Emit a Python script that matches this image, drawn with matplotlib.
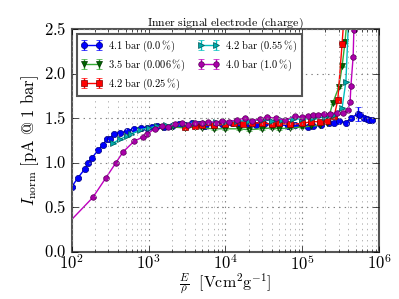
import numpy as np
import matplotlib
matplotlib.use("Agg")
import matplotlib.pyplot as plt
from matplotlib.ticker import FuncFormatter

plt.style.use('classic')
plt.rcParams['mathtext.fontset'] = 'cm'
plt.rcParams['font.family'] = 'serif'
plt.rcParams['font.serif'] = ['cmr10', 'DejaVu Serif']
plt.rcParams['axes.formatter.use_mathtext'] = True

# 4.1 bar (0.0 %)
x_a = [100, 120, 148, 162, 182, 219, 254, 287, 314, 354, 424, 524, 646, 800, 955,
       1100, 1300, 1600, 2000, 2500, 3000, 3700, 4500, 5500, 7000, 9000, 1.2e4, 1.5e4,
       2e4, 2.5e4, 3.2e4, 4e4, 5e4, 6.5e4, 8e4, 1e5, 1.2e5, 1.4e5, 1.74e5, 2.2e5, 2.6e5,
       3e5, 3.7e5, 4.3e5, 5.3e5, 5.6e5, 6.3e5, 7e5, 7.5e5, 8e5]
y_a = [0.73, 0.83, 0.93, 1.0, 1.05, 1.14, 1.2, 1.27, 1.27, 1.32, 1.33, 1.36, 1.38, 1.39, 1.39,
       1.40, 1.41, 1.40, 1.41, 1.43, 1.42, 1.44, 1.43, 1.41, 1.42, 1.43, 1.44, 1.42,
       1.43, 1.42, 1.43, 1.42, 1.43, 1.41, 1.42, 1.43, 1.40, 1.41, 1.42, 1.44, 1.45,
       1.47, 1.45, 1.50, 1.55, 1.54, 1.50, 1.49, 1.48, 1.48]
e_a = [0.01] * 44 + [0.08, 0.03, 0.02, 0.01, 0.01, 0.01]

# 3.5 bar (0.006 %)
x_b = [1500, 2000, 3000, 4000, 5000, 7000, 1e4, 1.5e4, 2e4, 3e4, 4e4, 5e4, 7e4, 1e5,
       1.3e5, 1.7e5, 2.1e5, 2.5e5, 3e5, 3.3e5, 3.6e5, 4e5]
y_b = [1.40, 1.40, 1.39, 1.40, 1.39, 1.38, 1.38, 1.38, 1.37, 1.38, 1.39, 1.38, 1.39, 1.40,
       1.41, 1.42, 1.44, 1.67, 1.85, 2.08, 2.35, 2.8]

# 4.2 bar (0.25 %)
x_c = [3000, 4000, 5000, 7000, 1e4, 1.3e4, 1.7e4, 2.2e4, 3e4, 4e4, 5e4, 7e4, 1e5, 1.3e5,
       1.7e5, 2.1e5, 2.6e5, 2.9e5, 3.3e5, 3.6e5]
y_c = [1.40, 1.41, 1.42, 1.42, 1.43, 1.44, 1.43, 1.44, 1.45, 1.43, 1.44, 1.43, 1.44, 1.46,
       1.46, 1.47, 1.52, 1.70, 2.33, 2.8]

# 4.2 bar (0.55 %)
x_d = [343, 420, 520, 590, 775, 1000, 1300, 1700, 2200, 3000, 4000, 5500, 7500, 1e4, 1.4e4,
       2e4, 3e4, 4e4, 5.5e4, 7.5e4, 1e5, 1.4e5, 2e5, 2.6e5, 3.3e5, 3.7e5, 4.1e5]
y_d = [1.22, 1.26, 1.30, 1.32, 1.37, 1.39, 1.41, 1.42, 1.42, 1.43, 1.45, 1.44, 1.46, 1.46, 1.47,
       1.47, 1.48, 1.47, 1.48, 1.49, 1.49, 1.50, 1.51, 1.53, 1.61, 1.91, 2.8]

# 4.0 bar (1.0 %)
x_e = [85, 188, 278, 376, 464, 646, 850, 955, 1200, 1500, 1800, 2200, 2700, 3300, 4000,
       5000, 6000, 7500, 9000, 1.1e4, 1.4e4, 1.8e4, 2.2e4, 2.8e4, 3.5e4, 4.5e4, 6e4, 8e4,
       1e5, 1.2e5, 1.4e5, 1.6e5, 1.9e5, 2.3e5, 2.8e5, 3.4e5, 3.9e5, 4.2e5, 4.3e5, 4.6e5,
       4.7e5, 5e5]
y_e = [0.3, 0.61, 0.83, 1.0, 1.12, 1.24, 1.29, 1.32, 1.38, 1.41, 1.40, 1.43, 1.44, 1.42, 1.45,
       1.44, 1.46, 1.45, 1.47, 1.46, 1.48, 1.50, 1.47, 1.49, 1.51, 1.50, 1.48, 1.52,
       1.51, 1.52, 1.53, 1.54, 1.55, 1.55, 1.56, 1.56, 1.59, 1.68, 1.86, 2.19, 2.49, 2.9]

labels = [r'$\mathrm{4.1\ bar\ (0.0\,\%)}$', r'$\mathrm{3.5\ bar\ (0.006\,\%)}$',
          r'$\mathrm{4.2\ bar\ (0.25\,\%)}$', r'$\mathrm{4.2\ bar\ (0.55\,\%)}$',
          r'$\mathrm{4.0\ bar\ (1.0\,\%)}$']

fig = plt.figure(figsize=(3.99, 2.99), dpi=100, facecolor='white')
ax = fig.add_axes([0.18, 0.158, 0.77, 0.745])
ax.set_facecolor('white')

ax.errorbar(x_a, y_a, yerr=e_a, color='blue', ecolor='blue', marker='o', ms=4.5, mfc='blue',
            mec='#000080', mew=0.5, lw=1, capsize=2, label=labels[0])
ax.errorbar(x_b, y_b, yerr=0.01, color='#33aa33', ecolor='#33aa33', marker='v', ms=4.5, mfc='#006400',
            mec='#003300', mew=0.5, lw=1, capsize=2, label=labels[1])
ax.errorbar(x_c, y_c, yerr=0.01, color='red', ecolor='red', marker='s', ms=4.5, mfc='red',
            mec='#800000', mew=0.5, lw=1, capsize=2, label=labels[2])
ax.errorbar(x_d, y_d, yerr=0.01, color='c', ecolor='c', marker='>', ms=4.5, mfc='#00aaaa',
            mec='#005555', mew=0.5, lw=1, capsize=2, label=labels[3])
ax.errorbar(x_e, y_e, yerr=0.01, color='m', ecolor='m', marker='o', ms=4, mfc='#aa00aa',
            mec='#550055', mew=0.5, lw=1, capsize=2, label=labels[4])

ax.set_xscale('log')
ax.set_xlim(1e2, 1e6)
ax.set_ylim(0, 2.5)
ax.set_yticks([0, 0.5, 1.0, 1.5, 2.0, 2.5])
ax.yaxis.set_major_formatter(FuncFormatter(lambda v, p: r'$%.1f$' % v))
ax.tick_params(labelsize=12)
ax.tick_params(axis='x', pad=1)
ax.grid(True, which='major', color='gray', linestyle=':', lw=0.8)
ax.grid(True, which='minor', axis='x', color='#aaaaaa', linestyle=':', lw=0.6)
for s in ax.spines.values():
    s.set_color('#555555')
    s.set_linewidth(1.5)

ax.set_title(r'$\mathrm{Inner\ signal\ electrode\ (charge)}$', fontsize=8.5, pad=2)
ax.set_xlabel(r'$\frac{E}{\rho}\ \ [\mathrm{Vcm^2g^{-1}}]$', fontsize=11.5, labelpad=-1)
ax.set_ylabel(r'$I_{\mathrm{norm}}\ [\mathrm{pA\ @\ 1\ bar}]$', fontsize=12, labelpad=2)

leg = ax.legend(loc='upper left', ncol=2, fontsize=7.5, numpoints=2, handlelength=2.0,
                columnspacing=1.2, borderpad=0.4, labelspacing=0.35, handletextpad=0.6,
                fancybox=False)
leg.get_frame().set_edgecolor('#555555')
leg.get_frame().set_linewidth(1.5)

fig.savefig('out.png', dpi=100, facecolor='white')
